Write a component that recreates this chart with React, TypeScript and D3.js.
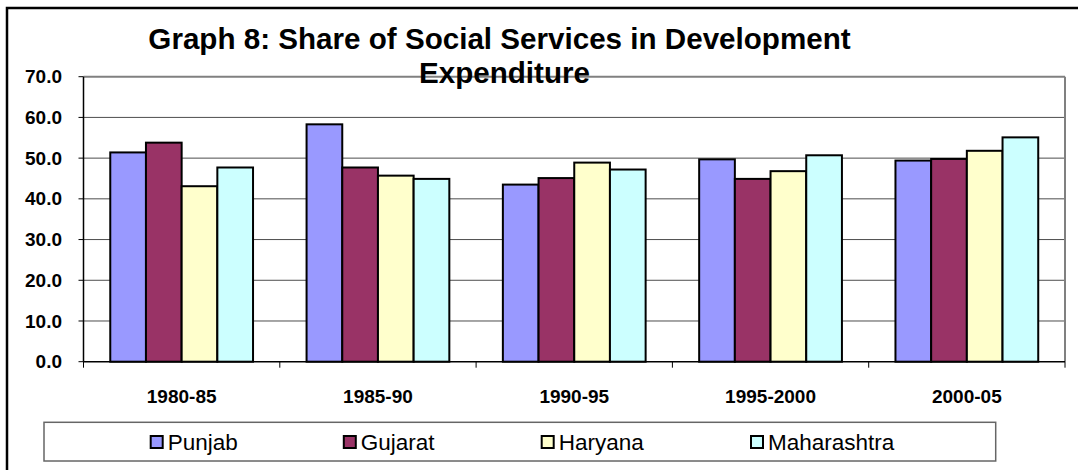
import React from "react";
import * as d3 from "d3";

const categories = ["1980-85", "1985-90", "1990-95", "1995-2000", "2000-05"];
const seriesNames = ["Punjab", "Gujarat", "Haryana", "Maharashtra"];
const punjab = [51.4, 58.3, 43.5, 49.7, 49.4];
const gujarat = [53.8, 47.7, 45.1, 44.9, 49.8];
const haryana = [43.1, 45.7, 48.9, 46.8, 51.8];
const maharashtra = [47.7, 44.9, 47.2, 50.7, 55.1];
const yTicks = [0, 10, 20, 30, 40, 50, 60, 70];
const titleLines = ["Graph 8: Share of Social Services in Development", "Expenditure"];

const seriesValues = [punjab, gujarat, haryana, maharashtra];
const colors = ["#9999FF", "#993366", "#FFFFCC", "#CCFFFF"];

const W = 1078;
const H = 470;
const plot = { left: 83.5, right: 1065, top: 76.7, bottom: 361.7 };
const FONT = "Arial, 'Liberation Sans', Helvetica, sans-serif";
const legendBox = { x: 44, y: 422.3, w: 951.7, h: 38.7 };
const legendX = [150.7, 343.8, 541.7, 751];
const titleX = [499.5, 504.5];

export default function App() {
  const x0 = d3
    .scaleBand<string>()
    .domain(categories)
    .range([plot.left, plot.right])
    .padding(0);
  const band = x0.bandwidth();
  const barW = band / 5.5;
  const groupOffset = (band - barW * 4) / 2;
  const x1 = d3
    .scaleBand<string>()
    .domain(seriesNames)
    .range([0, barW * 4])
    .padding(0);
  const y = d3.scaleLinear().domain([0, 70]).range([plot.bottom, plot.top]);

  const boundaries = categories.map((c) => x0(c) as number).concat([plot.right]);

  return (
    <svg
      width={W}
      height={H}
      viewBox={`0 0 ${W} ${H}`}
      style={{ position: "absolute", left: 0, top: 0, background: "#fff" }}
    >
      <rect x={0} y={0} width={W} height={H} fill="#fff" />
      {/* outer chart border */}
      <rect x={7} y={8} width={W + 50} height={H + 50} fill="none" stroke="#000" strokeWidth={2.5} />

      {/* gridlines */}
      {yTicks
        .filter((t) => t > 0 && t < 70)
        .map((t) => (
          <line
            key={"g" + t}
            x1={plot.left}
            x2={plot.right}
            y1={y(t)}
            y2={y(t)}
            stroke="#4d4d4d"
            strokeWidth={1}
          />
        ))}
      {/* plot area border top/right */}
      <line x1={plot.left} x2={plot.right} y1={plot.top} y2={plot.top} stroke="#808080" strokeWidth={2} />
      <line x1={plot.right} x2={plot.right} y1={plot.top} y2={plot.bottom} stroke="#808080" strokeWidth={2} />

      {/* bars */}
      {categories.map((c, ci) => (
        <g key={c}>
          {seriesNames.map((s, si) => {
            const v = seriesValues[si][ci];
            const bx = (x0(c) as number) + groupOffset + (x1(s) as number);
            return (
              <rect
                key={s}
                x={bx}
                y={y(v)}
                width={barW}
                height={y(0) - y(v)}
                fill={colors[si]}
                stroke="#000"
                strokeWidth={2}
              />
            );
          })}
        </g>
      ))}

      {/* y axis */}
      <line x1={plot.left} x2={plot.left} y1={plot.top} y2={plot.bottom} stroke="#000" strokeWidth={1.5} />
      {yTicks.map((t) => (
        <g key={"yt" + t}>
          <line x1={plot.left - 5} x2={plot.left} y1={y(t)} y2={y(t)} stroke="#000" strokeWidth={1} />
          <text
            x={62}
            y={y(t)}
            dy="0.35em"
            textAnchor="end"
            fontFamily={FONT}
            fontWeight="bold"
            fontSize={19}
            fill="#000"
          >
            {d3.format(".1f")(t)}
          </text>
        </g>
      ))}

      {/* x axis */}
      <line x1={plot.left} x2={plot.right} y1={plot.bottom} y2={plot.bottom} stroke="#000" strokeWidth={1.5} />
      {boundaries.map((bx, i) => (
        <line key={"xt" + i} x1={bx} x2={bx} y1={plot.bottom} y2={plot.bottom + 6} stroke="#000" strokeWidth={1} />
      ))}
      {categories.map((c) => (
        <text
          key={"xl" + c}
          x={(x0(c) as number) + band / 2}
          y={402.7}
          textAnchor="middle"
          fontFamily={FONT}
          fontWeight="bold"
          fontSize={19}
          fill="#000"
        >
          {c}
        </text>
      ))}

      {/* title */}
      {titleLines.map((t, i) => (
        <text
          key={"t" + i}
          x={titleX[i]}
          y={49.3 + i * 34}
          textAnchor="middle"
          fontFamily={FONT}
          fontWeight="bold"
          fontSize={29.6}
          fill="#000"
        >
          {t}
        </text>
      ))}

      {/* legend */}
      <rect
        x={legendBox.x}
        y={legendBox.y}
        width={legendBox.w}
        height={legendBox.h}
        fill="#fff"
        stroke="#666"
        strokeWidth={1.5}
      />
      {seriesNames.map((s, i) => (
        <g key={"l" + s}>
          <rect x={legendX[i]} y={436} width={12} height={12} fill={colors[i]} stroke="#000" strokeWidth={2} />
          <text x={legendX[i] + 17} y={450} fontFamily={FONT} fontSize={22.5} fill="#000">
            {s}
          </text>
        </g>
      ))}
    </svg>
  );
}
